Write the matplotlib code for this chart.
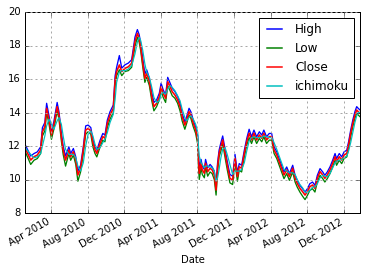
import pandas as pd
import matplotlib
matplotlib.use("Agg")
import matplotlib.pyplot as plt
import matplotlib.dates as mdates

# values (roughly weekly)
dates = ["2010-01-04", "2010-01-23", "2010-02-03", "2010-02-14", "2010-02-25", "2010-03-03",
         "2010-03-11", "2010-03-17", "2010-03-25", "2010-04-02", "2010-04-10", "2010-04-21",
         "2010-04-27", "2010-05-05", "2010-05-11", "2010-05-19", "2010-05-30", "2010-06-05",
         "2010-06-14", "2010-06-22", "2010-06-29", "2010-07-08", "2010-07-17", "2010-07-25",
         "2010-08-02", "2010-08-11", "2010-08-18", "2010-08-25", "2010-08-31", "2010-09-11",
         "2010-09-20", "2010-09-27", "2010-10-05", "2010-10-14", "2010-10-25", "2010-10-31",
         "2010-11-05", "2010-11-14", "2010-11-22", "2010-12-03", "2010-12-14", "2010-12-25",
         "2011-01-05", "2011-01-13", "2011-01-19", "2011-01-24", "2011-01-31", "2011-02-07",
         "2011-02-13", "2011-02-22", "2011-03-02", "2011-03-09", "2011-03-18", "2011-03-27",
         "2011-04-02", "2011-04-09", "2011-04-17", "2011-04-24", "2011-05-02", "2011-05-09",
         "2011-05-18", "2011-05-27", "2011-06-04", "2011-06-11", "2011-06-20", "2011-06-26",
         "2011-07-04", "2011-07-10", "2011-07-18", "2011-07-26", "2011-08-02", "2011-08-04",
         "2011-08-07", "2011-08-13", "2011-08-17", "2011-08-24", "2011-08-28", "2011-09-04",
         "2011-09-12", "2011-09-19", "2011-09-26", "2011-10-02", "2011-10-07", "2011-10-12",
         "2011-10-18", "2011-10-24", "2011-11-01", "2011-11-08", "2011-11-17", "2011-11-26",
         "2011-12-04", "2011-12-12", "2011-12-18", "2011-12-26", "2012-01-04", "2012-01-12",
         "2012-01-20", "2012-01-28", "2012-02-05", "2012-02-14", "2012-02-23", "2012-03-02",
         "2012-03-09", "2012-03-18", "2012-03-27", "2012-04-04", "2012-04-12", "2012-04-21",
         "2012-04-29", "2012-05-07", "2012-05-15", "2012-05-24", "2012-06-02", "2012-06-13",
         "2012-06-21", "2012-06-28", "2012-07-07", "2012-07-16", "2012-07-24", "2012-08-01",
         "2012-08-09", "2012-08-18", "2012-08-26", "2012-09-03", "2012-09-12", "2012-09-21",
         "2012-09-28", "2012-10-06", "2012-10-15", "2012-10-24", "2012-11-01", "2012-11-06",
         "2012-11-15", "2012-11-23", "2012-12-01", "2012-12-10", "2012-12-16", "2012-12-23",
         "2012-12-30", "2013-01-06", "2013-01-12", "2013-01-17", "2013-01-23"]

close = [11.90, 11.16, 11.36, 11.46, 11.76, 12.85, 13.15, 14.25, 13.55, 12.66, 13.25, 14.35,
         13.85, 12.56, 11.76, 11.16, 11.76, 11.36, 11.66, 11.16, 10.27, 10.67, 11.76, 12.95,
         13.05, 12.90, 12.20, 11.76, 11.56, 12.16, 12.56, 12.46, 13.35, 13.85, 14.25, 15.94,
         16.44, 16.84, 16.44, 16.64, 16.73, 16.94, 18.23, 18.73, 18.43, 17.93, 16.94, 16.04,
         16.34, 15.84, 14.95, 14.35, 14.55, 14.95, 15.54, 15.14, 14.85, 15.84, 15.54, 15.24,
         15.04, 14.75, 14.35, 13.75, 13.25, 13.55, 14.05, 13.85, 13.35, 12.96, 12.36, 11.36,
         10.37, 10.97, 10.57, 10.37, 10.97, 10.47, 10.67, 10.57, 10.27, 9.37, 10.77, 11.56,
         11.96, 12.36, 11.56, 10.87, 10.07, 9.97, 11.26, 10.17, 10.76, 10.67, 11.56, 12.26,
         12.76, 12.36, 12.76, 12.36, 12.66, 12.46, 12.76, 12.36, 12.56, 12.56, 11.76, 11.46,
         11.06, 10.67, 10.27, 10.57, 10.17, 10.67, 10.07, 9.77, 9.47, 9.27, 9.07, 9.27,
         9.57, 9.67, 9.47, 10.07, 10.47, 10.27, 10.07, 10.27, 10.57, 10.97, 11.36, 11.06,
         11.36, 11.16, 11.46, 11.56, 12.06, 12.76, 13.35, 13.85, 14.15, 14.05, 13.95]

high = [12.10, 11.40, 11.55, 11.65, 11.95, 13.10, 13.40, 14.55, 13.80, 12.90, 13.45, 14.60,
        14.05, 12.80, 12.00, 11.40, 11.95, 11.55, 11.85, 11.35, 10.50, 10.85, 11.95, 13.20,
        13.25, 13.10, 12.40, 11.95, 11.75, 12.35, 12.75, 12.65, 13.55, 14.05, 14.45, 16.20,
        16.70, 17.40, 16.65, 16.85, 16.95, 17.15, 18.50, 18.95, 18.65, 18.15, 17.20, 16.30,
        16.55, 16.05, 15.20, 14.60, 14.75, 15.15, 15.75, 15.35, 15.05, 16.10, 15.75, 15.45,
        15.25, 14.95, 14.55, 13.95, 13.45, 13.75, 14.25, 14.05, 13.55, 13.15, 12.60, 11.70,
        10.70, 11.20, 10.80, 10.60, 11.20, 10.70, 10.90, 10.75, 10.50, 9.70, 11.00, 11.75,
        12.20, 12.60, 11.80, 11.10, 10.30, 10.20, 11.50, 10.40, 10.95, 10.85, 11.75, 12.45,
        13.00, 12.55, 12.95, 12.55, 12.85, 12.65, 12.95, 12.55, 12.75, 12.75, 11.95, 11.65,
        11.25, 10.85, 10.45, 10.75, 10.35, 10.85, 10.25, 9.95, 9.65, 9.45, 9.25, 9.45,
        9.75, 9.85, 9.65, 10.25, 10.65, 10.45, 10.25, 10.45, 10.75, 11.15, 11.55, 11.25,
        11.55, 11.35, 11.65, 11.75, 12.25, 12.95, 13.55, 14.05, 14.35, 14.25, 14.15]

low = [11.70, 10.90, 11.15, 11.25, 11.55, 12.60, 12.90, 14.00, 13.30, 12.40, 13.00, 14.10,
       13.60, 12.30, 11.50, 10.80, 11.55, 11.15, 11.45, 10.90, 9.90, 10.45, 11.55, 12.70,
       12.85, 12.70, 11.95, 11.55, 11.35, 11.95, 12.35, 12.25, 13.10, 13.60, 14.00, 15.60,
       16.20, 16.55, 16.20, 16.45, 16.50, 16.70, 17.95, 18.50, 18.20, 17.70, 16.70, 15.80,
       16.10, 15.60, 14.70, 14.10, 14.35, 14.75, 15.30, 14.90, 14.60, 15.60, 15.30, 15.00,
       14.85, 14.55, 14.10, 13.50, 13.00, 13.35, 13.85, 13.65, 13.15, 12.75, 12.10, 10.90,
       10.00, 10.70, 10.30, 10.10, 10.75, 10.20, 10.45, 10.35, 10.00, 9.07, 10.50, 11.35,
       11.70, 12.15, 11.30, 10.60, 9.80, 9.70, 11.00, 9.90, 10.55, 10.45, 11.35, 12.05,
       12.50, 12.15, 12.55, 12.15, 12.45, 12.25, 12.55, 12.15, 12.35, 12.35, 11.55, 11.25,
       10.85, 10.45, 10.05, 10.35, 9.95, 10.45, 9.85, 9.55, 9.25, 9.00, 8.80, 9.05,
       9.35, 9.45, 9.25, 9.85, 10.25, 10.05, 9.85, 10.05, 10.35, 10.75, 11.15, 10.85,
       11.15, 10.95, 11.25, 11.35, 11.85, 12.55, 13.15, 13.65, 13.95, 13.85, 13.75]

ichimoku = [11.90, 11.50, 11.30, 11.35, 11.55, 12.00, 12.60, 13.20, 13.60, 13.30, 13.00, 13.50,
            13.70, 13.30, 12.60, 11.80, 11.50, 11.50, 11.50, 11.30, 10.80, 10.50, 11.00, 12.00,
            12.70, 12.90, 12.60, 12.10, 11.80, 11.90, 12.20, 12.40, 12.80, 13.40, 13.90, 14.80,
            15.80, 16.40, 16.50, 16.50, 16.60, 16.80, 17.50, 18.20, 18.50, 18.30, 17.70, 16.90,
            16.40, 16.10, 15.50, 14.90, 14.60, 14.70, 15.10, 15.20, 15.10, 15.40, 15.60, 15.50,
            15.30, 15.00, 14.70, 14.20, 13.70, 13.50, 13.70, 13.80, 13.60, 13.30, 12.80, 12.10,
            11.40, 11.00, 10.90, 10.70, 10.80, 10.80, 10.75, 10.70, 10.50, 9.90, 10.10, 10.60,
            11.30, 11.80, 11.90, 11.50, 10.90, 10.30, 10.50, 10.50, 10.50, 10.60, 11.00, 11.70,
            12.30, 12.50, 12.55, 12.50, 12.50, 12.50, 12.60, 12.55, 12.50, 12.50, 12.20, 11.80,
            11.40, 11.00, 10.60, 10.50, 10.40, 10.40, 10.30, 10.00, 9.70, 9.50, 9.25, 9.20,
            9.35, 9.55, 9.55, 9.75, 10.10, 10.25, 10.20, 10.15, 10.35, 10.70, 11.00, 11.10,
            11.15, 11.20, 11.30, 11.40, 11.70, 12.20, 12.80, 13.40, 13.80, 14.00, 14.00]

df = pd.DataFrame({"High": high, "Low": low, "Close": close, "ichimoku": ichimoku},
                  index=pd.to_datetime(dates))

plt.style.use("classic")
plt.rcParams["font.size"] = 10
plt.rcParams["figure.facecolor"] = "white"
plt.rcParams["savefig.facecolor"] = "white"

fig = plt.figure(figsize=(367 / 72, 272 / 72), dpi=72)
ax = fig.add_axes([25 / 367, 59 / 272, 335 / 367, 201 / 272])

ax.plot(df.index, df["High"], color="b", lw=1.3, label="High")
ax.plot(df.index, df["Low"], color="g", lw=1.3, label="Low")
ax.plot(df.index, df["Close"], color="r", lw=1.6, label="Close")
ax.plot(df.index, df["ichimoku"], color="c", lw=1.2, label="ichimoku")

ax.set_xlim(df.index[0], df.index[-1])
ax.set_ylim(8, 20)
ax.set_yticks(range(8, 21, 2))
ax.xaxis.set_major_locator(mdates.MonthLocator(bymonth=[4, 8, 12]))
ax.xaxis.set_major_formatter(mdates.DateFormatter("%b %Y"))
for lab in ax.get_xticklabels():
    lab.set_rotation(30)
    lab.set_ha("right")

ax.grid(True, color="#a8a8a8", linestyle=(0, (2, 3)), linewidth=1)
ax.set_xlabel("Date")

leg = ax.legend(loc="upper right", handlelength=1.8)
for h in leg.get_lines():
    h.set_linewidth(1.5)

fig.savefig("out.png", dpi=72)
